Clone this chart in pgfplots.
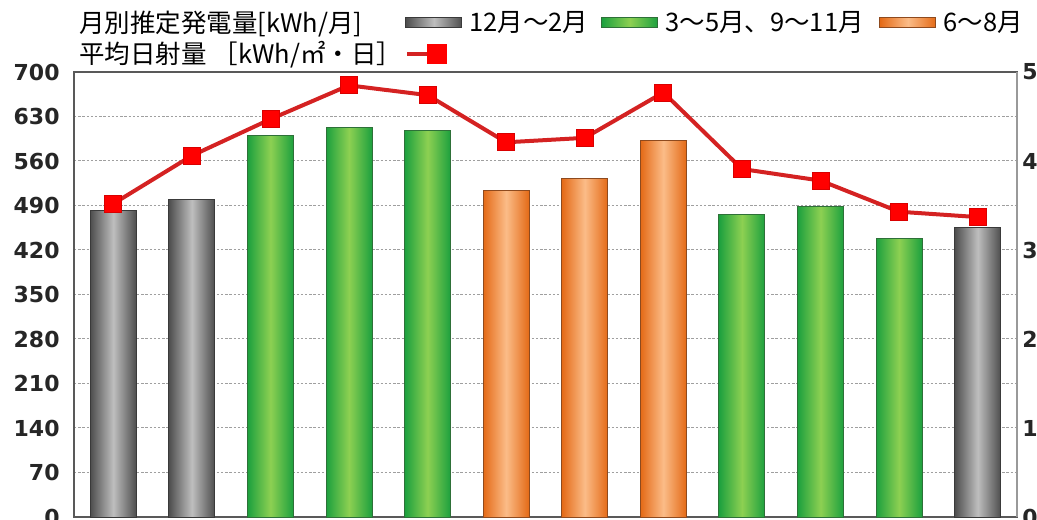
\documentclass[border=0pt]{standalone}
\usepackage{fontspec}
\setmainfont{DejaVu Sans}
\newfontfamily\jp{Noto Sans CJK JP}
\usepackage{pgfplots}
\pgfplotsset{compat=1.18}

\definecolor{gyedge}{HTML}{4E4E4E}
\definecolor{gymid}{HTML}{BEBEBE}
\definecolor{gyline}{HTML}{3A3A3A}
\definecolor{gnedge}{HTML}{1CA03E}
\definecolor{gnmid}{HTML}{8DD052}
\definecolor{gnline}{HTML}{2E7038}
\definecolor{oredge}{HTML}{E46A16}
\definecolor{ormid}{HTML}{FBBC88}
\definecolor{orline}{HTML}{8E4A1E}
\definecolor{lnred}{HTML}{D42222}
\definecolor{mkred}{HTML}{FF0000}

\tikzset{
  graybar/.style={draw=gyline, line width=0.5pt, left color=gyedge, right color=gyedge, middle color=gymid},
  greenbar/.style={draw=gnline, line width=0.5pt, left color=gnedge, right color=gnedge, middle color=gnmid},
  orangebar/.style={draw=orline, line width=0.5pt, left color=oredge, right color=oredge, middle color=ormid},
}
\pgfplotsset{
  onebar/.style={ybar, bar shift=0pt, bar width=23pt, forget plot},
}

\newcommand{\jpfont}{\jp\fontsize{12.75}{15}\selectfont}

\begin{document}
\begin{tikzpicture}
\begin{axis}[
    name=main,
    width=471.5pt, height=222.5pt, scale only axis,
    xmin=0.5, xmax=12.5, xtick=\empty,
    ymin=0, ymax=700, ytick={0,70,...,700},
    ymajorgrids,
    grid style={gray!75, line width=0.5pt, dash pattern=on 1.2pt off 0.9pt},
    tick style={draw=none},
    axis line style={black!65, line width=0.6pt},
    /pgf/number format/assume math mode=true,
    yticklabel style={font=\bfseries\fontsize{11}{13}\selectfont, text=black!85, inner sep=0pt, xshift=-7pt},
    legend columns=4,
    legend style={at={(0,1)}, anchor=west, xshift=-1pt, yshift=24.5pt,
      draw=none, fill=none, inner sep=0pt, font=\jpfont,
      nodes={inner sep=0pt},
      /tikz/every odd column/.append style={column sep=3.5pt},
      /tikz/every even column/.append style={column sep=0pt}},
  ]
  \addlegendimage{empty legend}
  \addlegendentry{\makebox[163pt][l]{月別推定発電量[kWh/月]}}
  \addlegendimage{legend image code/.code={\draw[graybar] (0pt,-2.5pt) rectangle (28pt,2.5pt);}}
  \addlegendentry{\makebox[66pt][l]{12月～2月}}
  \addlegendimage{legend image code/.code={\draw[greenbar] (0pt,-2.5pt) rectangle (28pt,2.5pt);}}
  \addlegendentry{\makebox[107pt][l]{3～5月、9～11月}}
  \addlegendimage{legend image code/.code={\draw[orangebar] (0pt,-2.5pt) rectangle (28pt,2.5pt);}}
  \addlegendentry{6～8月}

  % 12月～2月
  \addplot[onebar, graybar] coordinates {(1,482)};
  \addplot[onebar, graybar] coordinates {(2,500)};
  \addplot[onebar, graybar] coordinates {(12,455)};
  % 3～5月、9～11月
  \addplot[onebar, greenbar] coordinates {(3,600)};
  \addplot[onebar, greenbar] coordinates {(4,613)};
  \addplot[onebar, greenbar] coordinates {(5,608)};
  \addplot[onebar, greenbar] coordinates {(9,476)};
  \addplot[onebar, greenbar] coordinates {(10,488)};
  \addplot[onebar, greenbar] coordinates {(11,438)};
  % 6～8月
  \addplot[onebar, orangebar] coordinates {(6,514)};
  \addplot[onebar, orangebar] coordinates {(7,532)};
  \addplot[onebar, orangebar] coordinates {(8,592)};
\end{axis}

\begin{axis}[
    width=471.5pt, height=222.5pt, scale only axis,
    xmin=0.5, xmax=12.5, xtick=\empty,
    hide x axis,
    axis y line*=right,
    ymin=0, ymax=5, ytick={0,1,...,5},
    tick style={draw=none},
    axis line style={black!40, line width=1pt},
    /pgf/number format/assume math mode=true,
    yticklabel style={font=\bfseries\fontsize{11}{13}\selectfont, text=black!85, inner sep=0pt, xshift=2.5pt},
    legend columns=2,
    legend style={at={(0,1)}, anchor=west, xshift=-1pt, yshift=9pt,
      draw=none, fill=none, inner sep=0pt, font=\jpfont,
      nodes={inner sep=0pt},
      /tikz/every odd column/.append style={column sep=3.5pt},
      /tikz/every even column/.append style={column sep=0pt}},
  ]
  \addlegendimage{empty legend}
  \addlegendentry{\makebox[163pt][l]{平均日射量 ［kWh/㎡・日］}}
  \addplot[lnred, line width=2pt, mark=square*, mark size=4.25pt,
    mark options={fill=mkred, draw=mkred!85!black, line width=0.4pt},
    legend image code/.code={
      \draw[lnred, line width=1.6pt] (0pt,0pt) -- (12pt,0pt);
      \fill[mkred] (11pt,-4pt) rectangle (19pt,4pt);}]
    coordinates {(1,3.52) (2,4.06) (3,4.47) (4,4.85) (5,4.74) (6,4.21)
                 (7,4.26) (8,4.77) (9,3.91) (10,3.78) (11,3.43) (12,3.37)};
  \addlegendentry{\mbox{}}
\end{axis}

\pgfresetboundingbox
\path ([shift={(-37pt,-1pt)}]main.south west) rectangle ([shift={(10pt,36pt)}]main.north east);
\end{tikzpicture}
\end{document}
